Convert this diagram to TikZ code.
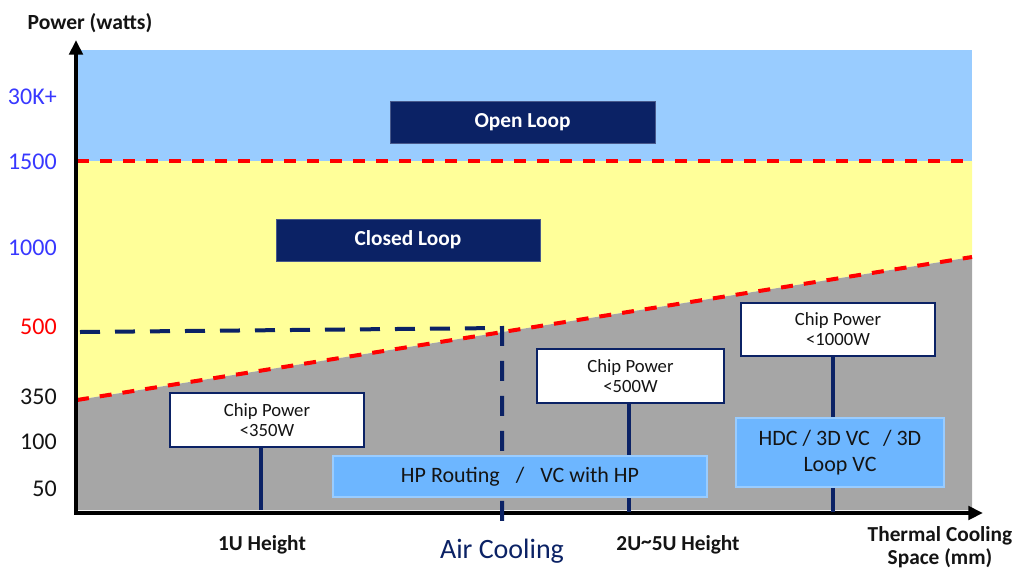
\documentclass[tikz,border=0pt]{standalone}
\usepackage{fontspec}
\setmainfont{Carlito}
\usetikzlibrary{arrows.meta}

\definecolor{navy}{HTML}{0B2265}
\definecolor{skyblue}{HTML}{99CCFF}
\definecolor{paleyellow}{HTML}{FFFF99}
\definecolor{midgray}{HTML}{A6A6A6}
\definecolor{coolblue}{HTML}{6DB6FF}
\definecolor{numblue}{HTML}{3838FF}
\definecolor{textdark}{HTML}{141414}

\begin{document}
\begin{tikzpicture}[x=0.75pt,y=-0.75pt,
  loopbox/.style={fill=navy,draw=navy!75!white,line width=0.6pt,text=white,inner sep=0pt,
    font=\fontsize{16}{18}\selectfont\bfseries},
  chipbox/.style={fill=white,draw=navy,line width=1.2pt,align=center,inner sep=0pt,text=textdark,
    font=\fontsize{14}{15}\selectfont},
  coolbox/.style={fill=coolblue,draw=skyblue,line width=1pt,align=center,inner sep=0pt,text=textdark},
  redline/.style={red,line width=3pt,dash pattern=on 9pt off 8.25pt},
  navyline/.style={navy,line width=3pt,dash pattern=on 15pt off 11.25pt},
  stem/.style={navy,line width=3.2pt},
  axisline/.style={black,line width=2.8pt,line cap=rect,-{Triangle[length=11pt,width=10pt]}},
  ylab/.style={anchor=east,inner sep=0pt,font=\fontsize{18}{20}\selectfont},
  xlab/.style={anchor=base,inner sep=0pt,text=textdark,font=\fontsize{16}{17.25}\selectfont\bfseries}
]
\useasboundingbox (0,0) rectangle (1017,568);

% zones
\fill[skyblue] (77,50) rectangle (972,161);
\fill[paleyellow] (77,161) -- (972,161) -- (972,257) -- (77,400) -- cycle;
\fill[midgray] (77,400) -- (972,257) -- (972,510) -- (77,510) -- cycle;
\draw[redline] (77,161) -- (972,161);
\draw[redline] (77,400) -- (972,257);

% axes
\coordinate (o) at (76,513);
\coordinate (ytip) at (76,40);
\coordinate (xtip) at (983,513);
\draw[axisline] (o) -- (ytip);
\draw[axisline] (o) -- (xtip);
\node[anchor=base,inner sep=0pt,text=textdark,font=\fontsize{16.2}{17}\selectfont\bfseries] (ytitle) at (90,29) {Power (watts)};
\node[xlab,align=center,anchor=center] (xtitle) at (940,547) {Thermal Cooling\\Space (mm)};

\node[ylab,text=numblue] (y30k) at (57,97) {30K+};
\node[ylab,text=numblue] (y1500) at (57,162) {1500};
\node[ylab,text=numblue] (y1000) at (57,248) {1000};
\node[ylab,text=red] (y500) at (57,327) {500};
\node[ylab,text=textdark] (y350) at (57,397) {350};
\node[ylab,text=textdark] (y100) at (57,442) {100};
\node[ylab,text=textdark] (y50) at (57,489) {50};

% loops
\node[loopbox,minimum width=198.75pt,minimum height=31.5pt] (open) at (522.5,122) {Open Loop};
\node[loopbox,minimum width=198pt,minimum height=31.5pt] (closed) at (408,240) {Closed Loop};

% air cooling limit
\coordinate (a1) at (80,332);
\coordinate (a2) at (502,328);
\coordinate (a3) at (502,532);
\draw[navyline] (a1) -- (a2) -- (a3);

% chip power
\node[chipbox,minimum width=145.5pt,minimum height=40.5pt] (chip350) at (267,420) {Chip Power\\<350W};
\node[chipbox,minimum width=140.25pt,minimum height=40.5pt] (chip500) at (630.5,376) {Chip Power\\<500W};
\node[chipbox,minimum width=145.5pt,minimum height=39.75pt] (chip1000) at (838,329.5) {Chip Power\\<1000W};

\coordinate (s1) at (261,510);
\coordinate (s2) at (629,512);
\coordinate (s3) at (833,512);
\draw[stem] (s1 |- chip350.south) -- (s1);
\draw[stem] (s2 |- chip500.south) -- (s2);
\draw[stem] (s3 |- chip1000.south) -- (s3);

% solutions
\node[coolbox,minimum width=280.5pt,minimum height=30.75pt,font=\fontsize{16.5}{18}\selectfont] (hp) at (520,476.5)
  {HP\ Routing\hspace{12pt}/\hspace{12pt}VC\ with\ HP};
\node[coolbox,minimum width=156pt,minimum height=51.75pt,font=\fontsize{16.5}{19.5}\selectfont] (hdc) at (840,452.5)
  {HDC / 3D VC\hspace{10pt}/ 3D\\Loop VC};

% x labels
\node[xlab] (u1) at (262,550) {1U Height};
\node[xlab] (u25) at (678,550) {2U\raisebox{0.1ex}{\textasciitilde}5U Height};
\node[anchor=base,inner sep=0pt,text=navy,font=\fontsize{21}{22}\selectfont] (air) at (502,558) {Air Cooling};
\end{tikzpicture}
\end{document}
